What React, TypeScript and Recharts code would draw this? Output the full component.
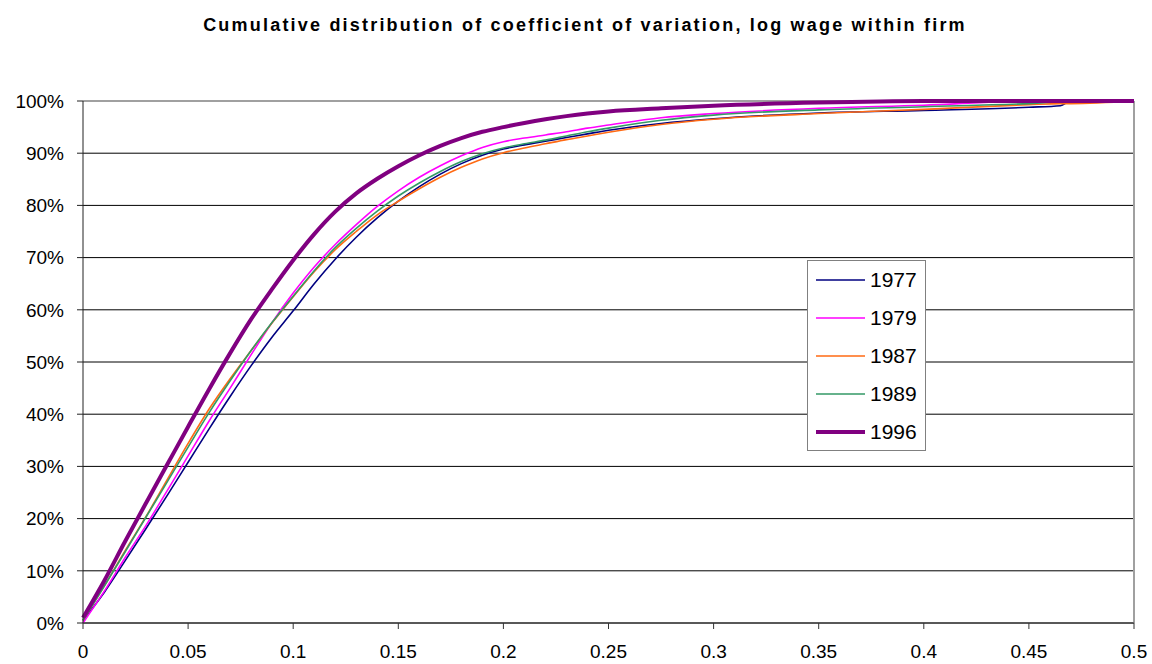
import React from 'react'
import { LineChart, Line, XAxis, YAxis, CartesianGrid, ReferenceLine } from 'recharts'

// coefficient of variation (x) and cumulative share of firms in % (y)
const cv = [
  0, 0.01, 0.02, 0.03, 0.04, 0.05, 0.06, 0.07, 0.08, 0.09, 0.1,
  0.11, 0.12, 0.13, 0.14, 0.15, 0.16, 0.17, 0.18, 0.19, 0.2,
  0.21, 0.22, 0.23, 0.24, 0.25,
  0.275, 0.3, 0.35, 0.4, 0.45, 0.465, 0.47, 0.5,
]

const y1977 = [
  0.5, 5.8, 11.9, 18.1, 24.4, 30.8, 37.2, 43.4, 49.3, 54.8, 59.8,
  65, 69.7, 73.9, 77.6, 80.8, 83.6, 86, 88, 89.6, 90.8,
  91.6, 92.3, 93, 93.7, 94.4,
  95.7, 96.6, 97.7, 98.2, 98.8, 99.1, 100, 100,
]
const y1979 = [
  0, 6, 12.5, 18.7, 25.3, 32, 38.7, 45, 51.4, 57.6, 63.2,
  68.2, 72.5, 76.3, 79.8, 82.8, 85.4, 87.6, 89.5, 91.1, 92.2,
  92.9, 93.5, 94.1, 94.8, 95.4,
  96.8, 97.6, 98.6, 99.2, 100, 100, 100, 100,
]
const y1987 = [
  0.5, 7, 13.8, 20.4, 27.4, 34.4, 41, 46.8, 52.2, 57.5, 62.5,
  67.3, 71.5, 75, 78.2, 80.8, 83.2, 85.4, 87.3, 88.9, 90.1,
  91, 91.8, 92.6, 93.3, 94,
  95.5, 96.5, 97.6, 98.4, 99.3, 99.5, 99.5, 100,
]
const y1989 = [
  0.5, 7, 13.6, 20.3, 27, 33.7, 40.3, 46.4, 52.2, 57.6, 62.6,
  67.5, 71.9, 75.6, 78.9, 81.8, 84.3, 86.5, 88.4, 89.9, 91,
  91.8, 92.5, 93.3, 94.1, 94.8,
  96.3, 97.3, 98.3, 98.9, 99.5, 99.8, 99.8, 100,
]
const y1996 = [
  1, 8, 15.6, 23, 30.3, 37.6, 44.8, 51.7, 58.2, 64, 69.5,
  74.5, 78.8, 82.3, 85.1, 87.5, 89.6, 91.4, 92.9, 94.1, 95,
  95.8, 96.5, 97.1, 97.6, 98,
  98.6, 99.1, 99.7, 100, 100, 100, 100, 100,
]

const xTicks = [0, 0.05, 0.1, 0.15, 0.2, 0.25, 0.3, 0.35, 0.4, 0.45, 0.5]
const xTickLabels = ['0', '0.05', '0.1', '0.15', '0.2', '0.25', '0.3', '0.35', '0.4', '0.45', '0.5']
const yTicks = [0, 10, 20, 30, 40, 50, 60, 70, 80, 90, 100]

const series = [
  { key: 'y1977', name: '1977', color: '#000080', width: 1.6 },
  { key: 'y1979', name: '1979', color: '#ff00ff', width: 1.6 },
  { key: 'y1987', name: '1987', color: '#ff6a13', width: 1.6 },
  { key: 'y1989', name: '1989', color: '#339966', width: 1.6 },
  { key: 'y1996', name: '1996', color: '#800080', width: 4 },
]

const data = cv.map((x, i) => ({
  x,
  y1977: y1977[i],
  y1979: y1979[i],
  y1987: y1987[i],
  y1989: y1989[i],
  y1996: y1996[i],
}))

const font = '"Liberation Sans", Arial, sans-serif'

const LegendBox = () => (
  <div style={{ position: 'absolute', left: 807, top: 260, width: 119, height: 191, border: '1px solid #808080', background: '#fff', boxSizing: 'border-box' }}>
    {series.map((s) => (
      <div key={s.key} style={{ height: 38, display: 'flex', alignItems: 'center' }}>
        <svg width={62} height={10}>
          <line x1={8} x2={57} y1={5} y2={5} stroke={s.color} strokeWidth={s.width} />
        </svg>
        <span style={{ fontFamily: font, fontSize: 21, color: '#000' }}>{s.name}</span>
      </div>
    ))}
  </div>
)

export default function App() {
  return (
    <div style={{ position: 'absolute', left: 0, top: 0, width: 1152, height: 664, background: '#fff' }}>
      <div style={{ position: 'absolute', left: 0, top: 15, width: 1170, textAlign: 'center', fontFamily: font, fontWeight: 'bold', fontSize: 18, letterSpacing: 2.2, color: '#000' }}>
        Cumulative distribution of coefficient of variation, log wage within firm
      </div>
      <LineChart width={1152} height={664} data={data} margin={{ top: 101, right: 18, left: 23, bottom: 0 }}>
        <CartesianGrid horizontal vertical={false} stroke="#000" strokeWidth={1} />
        <XAxis
          dataKey="x"
          type="number"
          domain={[0, 0.5]}
          ticks={xTicks}
          tickFormatter={(v: number) => xTickLabels[xTicks.indexOf(v)] ?? String(v)}
          height={41}
          tickSize={6}
          tickMargin={16}
          stroke="#333"
          tick={{ fill: '#000', fontSize: 19, fontFamily: font }}
          interval={0}
        />
        <YAxis
          type="number"
          domain={[0, 100]}
          ticks={yTicks}
          tickFormatter={(v: number) => `${v}%`}
          width={60}
          tickSize={6}
          tickMargin={13}
          stroke="#222"
          tick={{ fill: '#000', fontSize: 19, fontFamily: font }}
          interval={0}
        />
        <ReferenceLine y={100} stroke="#a0a0a0" strokeWidth={2} />
        <ReferenceLine x={0.5} stroke="#a0a0a0" strokeWidth={2} />
        {series.map((s) => (
          <Line
            key={s.key}
            type="monotone"
            dataKey={s.key}
            name={s.name}
            stroke={s.color}
            strokeWidth={s.width}
            dot={false}
            isAnimationActive={false}
          />
        ))}
      </LineChart>
      <LegendBox />
    </div>
  )
}
